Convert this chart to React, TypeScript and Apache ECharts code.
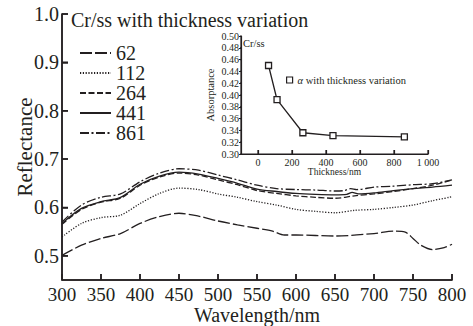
import React, { useEffect, useRef } from "react";
import * as echarts from "echarts";

// ---- Main chart data (Reflectance vs Wavelength) ----
const wavelengths = [300, 325, 350, 375, 400, 425, 450, 475, 500, 525, 550, 575, 600, 625, 650, 675, 700, 725, 750, 775, 800];
const wl62 = [300, 325, 350, 375, 400, 425, 450, 475, 500, 525, 550, 570, 585, 600, 650, 700, 725, 740, 750, 760, 775, 790, 800];
const r62 = [0.501, 0.522, 0.536, 0.546, 0.567, 0.581, 0.588, 0.582, 0.572, 0.564, 0.557, 0.551, 0.543, 0.543, 0.541, 0.546, 0.551, 0.549, 0.536, 0.522, 0.513, 0.517, 0.524];
const r112 = [0.539, 0.567, 0.579, 0.584, 0.608, 0.629, 0.640, 0.637, 0.628, 0.621, 0.612, 0.605, 0.596, 0.592, 0.589, 0.594, 0.596, 0.600, 0.605, 0.614, 0.622];
const r264 = [0.565, 0.596, 0.611, 0.619, 0.646, 0.663, 0.671, 0.667, 0.657, 0.647, 0.635, 0.629, 0.624, 0.621, 0.619, 0.624, 0.628, 0.633, 0.639, 0.646, 0.657];
const wl441 = [300, 325, 350, 375, 400, 425, 450, 475, 500, 525, 550, 575, 600, 625, 650, 665, 672, 680, 700, 725, 750, 775, 800];
const r441 = [0.567, 0.598, 0.612, 0.621, 0.648, 0.665, 0.673, 0.669, 0.660, 0.650, 0.638, 0.633, 0.629, 0.627, 0.626, 0.627, 0.631, 0.628, 0.630, 0.635, 0.639, 0.642, 0.646];
const wl861 = [300, 325, 350, 375, 400, 425, 450, 475, 500, 525, 550, 575, 600, 625, 650, 662, 670, 678, 700, 725, 750, 775, 800];
const r861 = [0.570, 0.605, 0.621, 0.628, 0.653, 0.671, 0.680, 0.677, 0.667, 0.657, 0.646, 0.639, 0.637, 0.636, 0.634, 0.635, 0.639, 0.637, 0.642, 0.644, 0.647, 0.649, 0.657];
const seriesNames = ["62", "112", "264", "441", "861"];
const mainXTicks = [300, 350, 400, 450, 500, 550, 600, 650, 700, 750, 800];
const mainYTicks = [0.5, 0.6, 0.7, 0.8, 0.9, 1.0];

// ---- Inset data (Absorptance vs Thickness) ----
const thickness = [62, 112, 264, 441, 861];
const absorptance = [0.45, 0.392, 0.336, 0.331, 0.329];
const insetXTicks = [0, 200, 400, 600, 800, 1000];
const insetYTicks = [0.3, 0.32, 0.34, 0.36, 0.38, 0.4, 0.42, 0.44, 0.46, 0.48, 0.5];
const insetName = "α with thickness variation";

const FONT = "Liberation Serif";
const INK = "#231f20";

// layout (positions only)
const W = 473;
const H = 326;
const MAIN = { left: 62, top: 14, right: 21, bottom: 46, xMin: 300, xMax: 800, yMin: 0.45, yMax: 1.0 };
const INSET = { left: 241, top: 36, width: 187, height: 118, xMin: -100, xMax: 1000, yMin: 0.3, yMax: 0.5 };
const MAIN_W = W - MAIN.left - MAIN.right;
const MAIN_H = H - MAIN.top - MAIN.bottom;

const pairs = (xs: number[], ys: number[]) => xs.map((x, i) => [x, ys[i]]);

// axis frame (left + bottom lines with inward/outward ticks) in data units
function axisFrame(
  cfg: { xMin: number; xMax: number; yMin: number; yMax: number },
  pxW: number,
  pxH: number,
  xt: number[],
  yt: number[],
  xTickPx: number,
  yTickPx: number
) {
  const dxPerPx = (cfg.xMax - cfg.xMin) / pxW;
  const dyPerPx = (cfg.yMax - cfg.yMin) / pxH;
  const pts: number[][] = [[cfg.xMin, cfg.yMax]];
  [...yt].sort((a, b) => b - a).forEach((v) => {
    pts.push([cfg.xMin, v], [cfg.xMin + yTickPx * dxPerPx, v], [cfg.xMin, v]);
  });
  pts.push([cfg.xMin, cfg.yMin]);
  xt.forEach((v) => {
    pts.push([v, cfg.yMin], [v, cfg.yMin + xTickPx * dyPerPx], [v, cfg.yMin]);
  });
  pts.push([cfg.xMax, cfg.yMin]);
  return pts;
}

export default function App() {
  const ref = useRef<HTMLDivElement>(null);
  useEffect(() => {
    if (!ref.current) return;
    const chart = echarts.init(ref.current, null, { renderer: "svg" });
    const lineSeries = (name: string, data: number[][], type: any) => ({
      name,
      type: "line",
      xAxisIndex: 0,
      yAxisIndex: 0,
      data,
      smooth: 0.3,
      symbol: "none",
      showSymbol: false,
      lineStyle: { color: INK, width: 1.3, type },
      itemStyle: { color: INK },
    });
    const frameSeries = (idx: number, data: number[][], w: number) => ({
      name: "axis-frame-" + idx,
      type: "line",
      xAxisIndex: idx,
      yAxisIndex: idx,
      data,
      smooth: false,
      symbol: "none",
      showSymbol: false,
      silent: true,
      clip: false,
      z: 10,
      lineStyle: { color: INK, width: w, type: "solid", join: "bevel" },
      itemStyle: { color: INK },
    });
    const axisLine = (w: number) => ({ show: true, onZero: false, lineStyle: { color: INK, width: w } });
    const option: any = {
      animation: false,
      backgroundColor: "#fff",
      textStyle: { fontFamily: FONT, color: INK },
      title: [
        {
          text: "Cr/ss with thickness variation",
          left: 71,
          top: 10,
          padding: 0,
          textStyle: { fontSize: 20, fontWeight: "normal", fontFamily: FONT, color: INK, lineHeight: 20 },
        },
        {
          text: "Cr/ss",
          left: 243,
          top: 38,
          padding: 0,
          textStyle: { fontSize: 10.5, fontWeight: "normal", fontFamily: FONT, color: INK, lineHeight: 11 },
        },
      ],
      legend: [
        {
          data: seriesNames,
          orient: "vertical",
          left: 79,
          top: 43,
          padding: 0,
          itemWidth: 31,
          itemHeight: 14,
          itemGap: 0,
          itemStyle: { opacity: 0 },
          textStyle: { fontSize: 20, fontFamily: FONT, color: INK, lineHeight: 16 },
        },
        {
          data: [insetName],
          left: 286,
          top: 74.5,
          padding: 0,
          icon: "rect",
          itemWidth: 6,
          itemHeight: 6,
          itemStyle: { color: "#fff", borderColor: INK, borderWidth: 1.2 },
          formatter: () => "{i|α} with thickness variation",
          textStyle: {
            fontSize: 10.5,
            fontFamily: FONT,
            color: INK,
            rich: { i: { fontStyle: "italic", fontSize: 10.5, fontFamily: FONT, color: INK } },
          },
        },
      ],
      grid: [
        { show: false, left: MAIN.left, top: MAIN.top, right: MAIN.right, bottom: MAIN.bottom, containLabel: false, outerBoundsMode: "none" },
        { show: false, left: INSET.left, top: INSET.top, width: INSET.width, height: INSET.height, containLabel: false, outerBoundsMode: "none" },
      ],
      xAxis: [
        {
          type: "value",
          gridIndex: 0,
          position: "bottom",
          min: MAIN.xMin,
          max: MAIN.xMax,
          interval: 50,
          name: "Wavelength/nm",
          nameLocation: "middle",
          nameGap: 25,
          nameMoveOverlap: false,
          nameTextStyle: { fontSize: 20, fontFamily: FONT, color: INK, lineHeight: 20 },
          axisLine: axisLine(1.5),
          axisTick: { show: true, inside: true, length: 6, lineStyle: { color: INK, width: 1.5 } },
          axisLabel: { fontSize: 19, fontFamily: FONT, color: INK, margin: 5, lineHeight: 19 },
          splitLine: { show: false },
        },
        {
          type: "value",
          gridIndex: 1,
          position: "bottom",
          min: INSET.xMin,
          max: INSET.xMax,
          name: "Thickness/nm",
          nameLocation: "middle",
          nameGap: 13,
          nameMoveOverlap: false,
          nameTextStyle: { fontSize: 9.5, fontFamily: FONT, color: INK },
          axisLine: axisLine(1.2),
          axisTick: { show: true, inside: true, length: 4, customValues: insetXTicks, lineStyle: { color: INK, width: 1.2 } },
          axisLabel: {
            fontSize: 10,
            fontFamily: FONT,
            color: INK,
            margin: 3,
            customValues: insetXTicks,
            formatter: (v: number) => (v >= 1000 ? "1 000" : String(v)),
          },
          splitLine: { show: false },
        },
      ],
      yAxis: [
        {
          type: "value",
          gridIndex: 0,
          position: "left",
          min: MAIN.yMin,
          max: MAIN.yMax,
          name: "Reflectance",
          nameLocation: "middle",
          nameGap: 27,
          nameMoveOverlap: false,
          nameTextStyle: { fontSize: 21, fontFamily: FONT, color: INK },
          axisLine: axisLine(1.5),
          axisTick: { show: true, inside: true, length: 6, customValues: mainYTicks, lineStyle: { color: INK, width: 1.5 } },
          axisLabel: {
            fontSize: 20,
            fontFamily: FONT,
            color: INK,
            margin: 3,
            customValues: mainYTicks,
            formatter: (v: number) => v.toFixed(1),
          },
          splitLine: { show: false },
        },
        {
          type: "value",
          gridIndex: 1,
          position: "left",
          min: INSET.yMin,
          max: INSET.yMax,
          interval: 0.02,
          name: "Absorptance",
          nameLocation: "middle",
          nameGap: 25,
          nameMoveOverlap: false,
          nameTextStyle: { fontSize: 10.5, fontFamily: FONT, color: INK },
          axisLine: axisLine(1.2),
          axisTick: { show: true, inside: false, length: 2, lineStyle: { color: INK, width: 1 } },
          axisLabel: {
            fontSize: 10,
            fontFamily: FONT,
            color: INK,
            margin: 2,
            formatter: (v: number) => v.toFixed(2),
          },
          splitLine: { show: false },
        },
      ],
      series: [
        lineSeries("62", pairs(wl62, r62), [12, 3]),
        lineSeries("112", pairs(wavelengths, r112), [1.2, 1.6]),
        lineSeries("264", pairs(wavelengths, r264), [6, 2.5]),
        lineSeries("441", pairs(wl441, r441), "solid"),
        lineSeries("861", pairs(wl861, r861), [9, 2.5, 2, 2.5]),
        {
          name: insetName,
          type: "line",
          xAxisIndex: 1,
          yAxisIndex: 1,
          data: pairs(thickness, absorptance),
          symbol: "rect",
          symbolSize: 6,
          lineStyle: { color: INK, width: 1.3 },
          itemStyle: { color: "#fff", borderColor: INK, borderWidth: 1.3 },
          z: 5,
        },
        frameSeries(0, axisFrame(MAIN, MAIN_W, MAIN_H, mainXTicks, mainYTicks, 6, 6), 1.5),
        frameSeries(1, axisFrame(INSET, INSET.width, INSET.height, insetXTicks, insetYTicks, 4, -2), 1.2),
      ],
    };
    chart.setOption(option);
    return () => chart.dispose();
  }, []);
  return (
    <div
      ref={ref}
      style={{ position: "fixed", left: 0, top: 0, width: W, height: H, background: "#fff" }}
    />
  );
}
